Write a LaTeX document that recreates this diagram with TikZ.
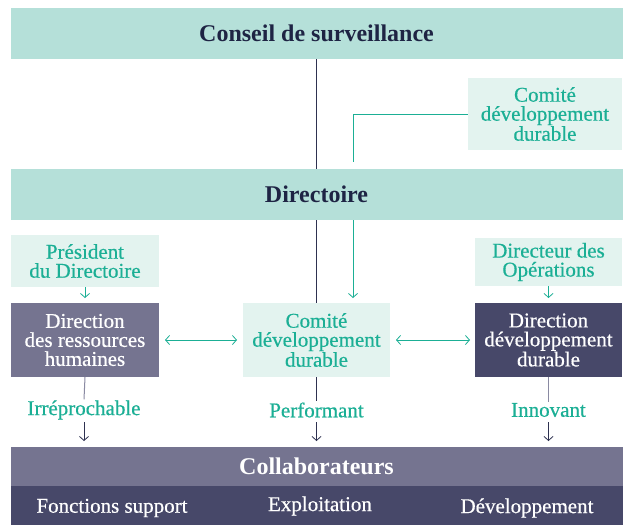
\documentclass[tikz,border=0pt]{standalone}
\usepackage{fontspec}
\setmainfont{Liberation Serif}
\newfontfamily\medfont[FakeBold=0.5]{Liberation Serif}
\usetikzlibrary{arrows.meta}
\definecolor{mint}{HTML}{B5E0D9}
\definecolor{lightmint}{HTML}{E3F3EF}
\definecolor{teal}{HTML}{1BAF95}
\definecolor{navy}{HTML}{1E2444}
\definecolor{graypurple}{HTML}{757490}
\definecolor{darkpurple}{HTML}{474869}
\definecolor{linedark}{HTML}{2E3150}
\definecolor{linegray}{HTML}{8A8AA2}
\tikzset{
  band/.style={fill=mint, draw=none, inner sep=0pt, minimum width=612pt, minimum height=51pt, text=navy, font=\fontsize{24}{24}\selectfont\bfseries},
  lightbox/.style={fill=lightmint, draw=none, inner sep=0pt, text=teal, align=center, font=\fontsize{21}{19}\selectfont\medfont},
  darkbox/.style={draw=none, inner sep=0pt, text=white, align=center, font=\fontsize{21}{19}\selectfont\medfont, minimum width=148pt, minimum height=74pt},
  lbl/.style={text=teal, inner sep=1pt, font=\fontsize{21}{19}\selectfont\medfont},
  wtxt/.style={text=white, inner sep=0pt, font=\fontsize{21}{19}\selectfont\medfont},
  tealarrow/.style={draw=teal, line width=0.8pt, -{Straight Barb[length=4pt,width=9pt]}},
  dblarrow/.style={draw=teal, line width=0.8pt, {Straight Barb[length=4pt,width=9pt]}-{Straight Barb[length=4pt,width=9pt]}},
  darkline/.style={draw=linedark, line width=0.8pt},
  grayline/.style={draw=linegray, line width=1pt},
  darkarrow/.style={draw=linedark, line width=0.8pt, -{Straight Barb[length=4pt,width=9pt]}},
}
\begin{document}
\begin{tikzpicture}[x=1pt,y=-1pt]
\useasboundingbox (0,0) rectangle (624,525);
\fill[white] (0,0) rectangle (624,525);
% bands
\node[band] (conseil) at (316.5,33.5) {Conseil de surveillance};
\node[band] (directoire) at (316.5,194.5) {Directoire};
% comite top
\node[lightbox, minimum width=154pt, minimum height=72pt] (cdtop) at (545,114) {Comité\\développement\\durable};
% president / directeur
\node[lightbox, minimum width=148pt, minimum height=52pt] (pres) at (85,261) {Président\\du Directoire};
\node[lightbox, minimum width=147pt, minimum height=48pt] (dirops) at (548.5,262) {Directeur des\\Opérations};
% middle row
\node[darkbox, fill=graypurple] (drh) at (85,340) {Direction\\des ressources\\humaines};
\node[lightbox, minimum width=147pt, minimum height=74pt] (cdmid) at (316.5,340) {Comité\\développement\\durable};
\node[darkbox, fill=darkpurple, minimum width=147pt] (ddd) at (548.5,340) {Direction\\développement\\durable};
% collaborateurs
\fill[graypurple] (11,447) rectangle (623,486);
\fill[darkpurple] (11,486) rectangle (623,525);
\node[wtxt, font=\fontsize{24}{24}\selectfont\bfseries] (collab) at (316.5,466.5) {Collaborateurs};
\node[wtxt] (fs) at (112,508) {Fonctions support};
\node[wtxt] (expl) at (320,506) {Exploitation};
\node[wtxt] (dev) at (527,508) {Développement};
% labels
\node[lbl] (irr) at (84,410) {Irréprochable};
\node[lbl] (perf) at (316.5,410) {Performant};
\node[lbl] (inno) at (548.5,410) {Innovant};
% connectors
\draw[darkline] (conseil.south) -- (directoire.north);
\draw[teal, line width=0.8pt] (cdtop.west) -- (353,114) -- (353,162);
\draw[darkline] (directoire.south) -- (cdmid.north);
\draw[tealarrow] (353,220) -- (353,298);
\draw[tealarrow] (pres.south) -- (85,298);
\draw[tealarrow] (dirops.south) -- (548.5,298);
\draw[dblarrow] (165,340) -- (237,340);
\draw[dblarrow] (396,340) -- (470,340);
\draw[grayline] (drh.south) -- (irr.north);
\draw[darkline] (cdmid.south) -- (perf.north);
\draw[grayline] (ddd.south) -- (inno.north);
\draw[darkarrow] (84,422) -- (84,441);
\draw[darkarrow] (316.5,422) -- (316.5,441);
\draw[darkarrow] (548.5,422) -- (548.5,441);
\end{tikzpicture}
\end{document}
